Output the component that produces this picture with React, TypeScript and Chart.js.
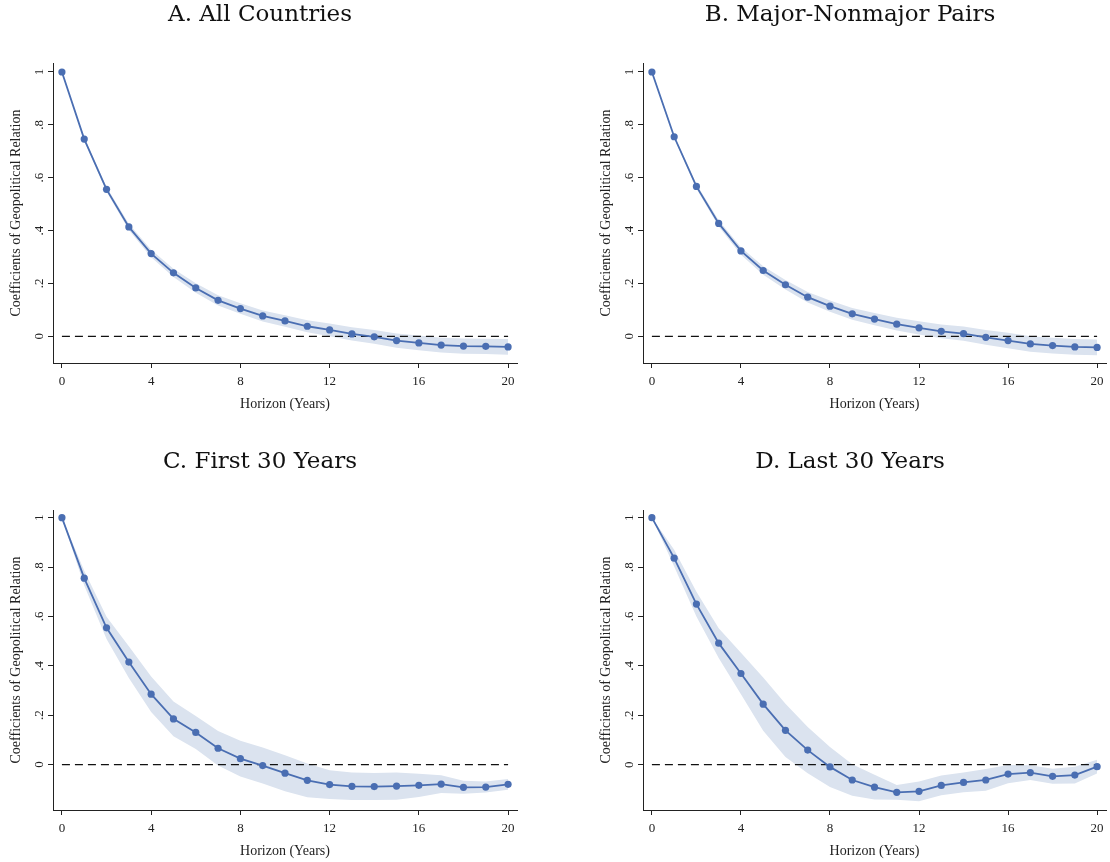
import React, { useEffect, useRef } from "react";
import { Chart, registerables } from "chart.js";

Chart.register(...registerables);

// ---------------- data ----------------
const HORIZON = [0, 1, 2, 3, 4, 5, 6, 7, 8, 9, 10, 11, 12, 13, 14, 15, 16, 17, 18, 19, 20];
const ZERO_REF = 0;

const A_TITLE = "A. All Countries";
const A_COEF = [1, 0.746, 0.556, 0.414, 0.313, 0.24, 0.183, 0.136, 0.105, 0.077, 0.058, 0.038, 0.024, 0.009, -0.002, -0.016, -0.025, -0.033, -0.037, -0.038, -0.04];
const A_LOWER = [1, 0.74, 0.547, 0.402, 0.299, 0.224, 0.165, 0.117, 0.085, 0.056, 0.036, 0.015, 0.0, -0.016, -0.028, -0.043, -0.053, -0.061, -0.066, -0.067, -0.07];
const A_UPPER = [1, 0.752, 0.565, 0.426, 0.327, 0.256, 0.201, 0.155, 0.125, 0.098, 0.08, 0.061, 0.048, 0.034, 0.024, 0.011, 0.003, -0.005, -0.008, -0.009, -0.01];

const B_TITLE = "B. Major-Nonmajor Pairs";
const B_COEF = [1, 0.755, 0.567, 0.427, 0.323, 0.249, 0.195, 0.148, 0.114, 0.085, 0.065, 0.046, 0.032, 0.019, 0.01, -0.004, -0.016, -0.029, -0.035, -0.04, -0.042];
const B_LOWER = [1, 0.749, 0.558, 0.415, 0.309, 0.233, 0.177, 0.128, 0.093, 0.063, 0.042, 0.022, 0.007, -0.007, -0.017, -0.032, -0.045, -0.058, -0.065, -0.07, -0.072];
const B_UPPER = [1, 0.761, 0.576, 0.439, 0.337, 0.265, 0.213, 0.168, 0.135, 0.107, 0.088, 0.07, 0.057, 0.045, 0.037, 0.024, 0.013, 0.0, -0.005, -0.01, -0.012];

const C_TITLE = "C. First 30 Years";
const C_COEF = [1, 0.755, 0.554, 0.415, 0.285, 0.185, 0.13, 0.066, 0.024, -0.004, -0.035, -0.064, -0.081, -0.088, -0.089, -0.087, -0.084, -0.079, -0.092, -0.091, -0.08];
const C_LOWER = [1, 0.725, 0.509, 0.351, 0.213, 0.115, 0.063, -0.004, -0.048, -0.077, -0.108, -0.132, -0.139, -0.144, -0.144, -0.142, -0.131, -0.115, -0.118, -0.113, -0.102];
const C_UPPER = [1, 0.785, 0.599, 0.479, 0.357, 0.255, 0.197, 0.136, 0.096, 0.069, 0.038, 0.004, -0.023, -0.032, -0.034, -0.032, -0.037, -0.043, -0.066, -0.069, -0.058];

const D_TITLE = "D. Last 30 Years";
const D_COEF = [1, 0.836, 0.65, 0.492, 0.369, 0.245, 0.139, 0.059, -0.009, -0.062, -0.091, -0.112, -0.108, -0.084, -0.072, -0.062, -0.038, -0.032, -0.047, -0.042, -0.008];
const D_LOWER = [1, 0.802, 0.6, 0.432, 0.285, 0.137, 0.031, -0.035, -0.09, -0.126, -0.141, -0.142, -0.148, -0.124, -0.112, -0.106, -0.075, -0.062, -0.077, -0.076, -0.036];
const D_UPPER = [1, 0.87, 0.7, 0.552, 0.453, 0.353, 0.247, 0.153, 0.072, 0.002, -0.041, -0.082, -0.068, -0.044, -0.032, -0.018, -0.001, -0.002, -0.017, -0.008, 0.02];

const X_TITLE = "Horizon (Years)";
const Y_TITLE = "Coefficients of Geopolitical Relation";

// ---------------- styling ----------------
const LINE_COLOR = "#4a6eb2";
const BAND_COLOR = "#dbe3ef";
const AXIS_COLOR = "#222222";
const SERIF = "'Liberation Serif', serif";
const TITLE_FONT = "'DejaVu Serif', serif";

type Panel = {
  title: string;
  coef: number[];
  lower: number[];
  upper: number[];
  yMin: number;
  yMax: number;
  left: number;
  top: number;
  width: number;
  padRight: number;
};

const PANELS: Panel[] = [
  { title: A_TITLE, coef: A_COEF, lower: A_LOWER, upper: A_UPPER, yMin: -0.101, yMax: 1.034, left: 0, top: 0, width: 521, padRight: 1 },
  { title: B_TITLE, coef: B_COEF, lower: B_LOWER, upper: B_UPPER, yMin: -0.101, yMax: 1.034, left: 590, top: 0, width: 520, padRight: 0 },
  { title: C_TITLE, coef: C_COEF, lower: C_LOWER, upper: C_UPPER, yMin: -0.184, yMax: 1.031, left: 0, top: 447, width: 521, padRight: 1 },
  { title: D_TITLE, coef: D_COEF, lower: D_LOWER, upper: D_UPPER, yMin: -0.1835, yMax: 1.031, left: 590, top: 447, width: 520, padRight: 0 },
];

const CANVAS_H = 415;

function fmtY(v: number | string): string {
  const n = Math.round(Number(v) * 10) / 10;
  if (n === 0) return "0";
  if (n === 1) return "1";
  return String(n).replace(/^0\./, ".").replace(/^-0\./, "-.");
}

function PanelChart({ p }: { p: Panel }) {
  const ref = useRef<HTMLCanvasElement | null>(null);
  useEffect(() => {
    if (!ref.current) return;
    const pts = (arr: number[]) => HORIZON.map((h, i) => ({ x: h, y: arr[i] }));
    const tickFont = { family: SERIF, size: 13, lineHeight: 1.2 };
    const titleFont = { family: SERIF, size: 14, lineHeight: 1.2 };
    const chart = new Chart(ref.current, {
      type: "line",
      data: {
        datasets: [
          {
            data: pts(p.coef),
            borderColor: LINE_COLOR,
            backgroundColor: LINE_COLOR,
            borderWidth: 1.8,
            pointRadius: 3.6,
            pointBorderWidth: 0,
            pointBackgroundColor: LINE_COLOR,
            tension: 0,
            fill: false,
          },
          {
            data: [
              { x: HORIZON[0], y: ZERO_REF },
              { x: HORIZON[HORIZON.length - 1], y: ZERO_REF },
            ],
            borderColor: "#111111",
            borderWidth: 1.3,
            borderDash: [8, 5],
            pointRadius: 0,
            fill: false,
          },
          {
            data: pts(p.upper),
            borderWidth: 0,
            borderColor: "rgba(0,0,0,0)",
            backgroundColor: BAND_COLOR,
            pointRadius: 0,
            fill: "+1",
            tension: 0,
          },
          {
            data: pts(p.lower),
            borderWidth: 0,
            borderColor: "rgba(0,0,0,0)",
            pointRadius: 0,
            fill: false,
            tension: 0,
          },
        ],
      },
      options: {
        responsive: false,
        animation: false,
        devicePixelRatio: 1,
        layout: { padding: { left: 0, right: p.padRight, top: 0, bottom: 2.6 } },
        plugins: {
          legend: { display: false },
          tooltip: { enabled: false },
          title: {
            display: true,
            text: p.title,
            color: "#111111",
            font: { family: TITLE_FONT, size: 23, weight: "normal", lineHeight: 1.2 },
            padding: { top: 1.5, bottom: 33.9 },
          },
        },
        scales: {
          x: {
            type: "linear",
            min: -0.4,
            max: 20.4,
            ticks: {
              stepSize: 4,
              includeBounds: false,
              autoSkip: false,
              maxRotation: 0,
              minRotation: 0,
              padding: 6,
              color: AXIS_COLOR,
              font: tickFont,
            },
            grid: {
              display: true,
              drawOnChartArea: false,
              drawTicks: true,
              tickLength: 5,
              tickColor: AXIS_COLOR,
              tickWidth: 1,
            },
            border: { display: true, color: AXIS_COLOR, width: 1 },
            title: {
              display: true,
              text: X_TITLE,
              color: AXIS_COLOR,
              font: titleFont,
              padding: { top: 0, bottom: 0 },
            },
          },
          y: {
            type: "linear",
            min: p.yMin,
            max: p.yMax,
            ticks: {
              stepSize: 0.2,
              includeBounds: false,
              minRotation: 90,
              maxRotation: 90,
              crossAlign: "center",
              padding: 4,
              color: AXIS_COLOR,
              font: tickFont,
              callback: (v: number | string) => fmtY(v),
            },
            grid: {
              display: true,
              drawOnChartArea: false,
              drawTicks: true,
              tickLength: 5,
              tickColor: AXIS_COLOR,
              tickWidth: 1,
            },
            border: { display: true, color: AXIS_COLOR, width: 1 },
            title: {
              display: true,
              text: Y_TITLE,
              color: AXIS_COLOR,
              font: titleFont,
              padding: { top: 7.6, bottom: 0 },
            },
          },
        },
      },
    } as any);
    return () => chart.destroy();
  }, [p]);
  return (
    <canvas
      ref={ref}
      width={p.width}
      height={CANVAS_H}
      style={{ position: "absolute", left: p.left, top: p.top, width: p.width, height: CANVAS_H, display: "block" }}
    />
  );
}

export default function App() {
  return (
    <div style={{ position: "fixed", left: 0, top: 0, width: 1110, height: 862, background: "#ffffff", overflow: "hidden" }}>
      {PANELS.map((p, i) => (
        <PanelChart key={i} p={p} />
      ))}
    </div>
  );
}
